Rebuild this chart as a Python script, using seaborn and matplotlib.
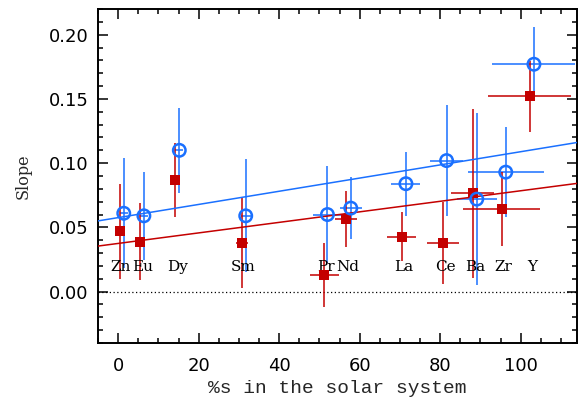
import numpy as np
import pandas as pd
import matplotlib
matplotlib.use("Agg")
import matplotlib.pyplot as plt
import seaborn as sns
from matplotlib.ticker import MultipleLocator

# ---------------- data ----------------
elements = ['Zn', 'Eu', 'Dy', 'Sm', 'Pr', 'Nd', 'La', 'Ce', 'Ba', 'Zr', 'Y']
label_x = [0.6, 6.0, 14.8, 31.1, 51.6, 57.1, 70.9, 81.2, 88.6, 95.8, 102.8]
label_y = 0.019

blue_x = [1.4, 6.4, 15.2, 31.7, 52.0, 57.8, 71.5, 81.6, 89.1, 96.3, 103.3]
blue_y = [0.061, 0.059, 0.110, 0.059, 0.060, 0.065, 0.084, 0.102, 0.072, 0.093, 0.177]
blue_yerr = [0.043, 0.034, 0.033, 0.044, 0.038, 0.024, 0.025, 0.043, 0.067, 0.035, 0.029]
blue_xerr = [1.0, 1.0, 1.0, 1.2, 3.5, 2.8, 3.6, 4.0, 5.0, 9.5, 10.3]

red_x = [0.4, 5.35, 14.2, 30.7, 51.2, 56.6, 70.5, 80.7, 88.1, 95.3, 102.3]
red_y = [0.0468, 0.039, 0.0868, 0.0382, 0.0128, 0.0564, 0.0429, 0.0377, 0.0764, 0.0642, 0.152]
red_yerr = [0.037, 0.030, 0.029, 0.035, 0.025, 0.022, 0.019, 0.032, 0.066, 0.029, 0.0275]
red_xerr = [0.5, 0.5, 0.5, 1.5, 3.65, 2.8, 3.6, 4.0, 5.3, 9.5, 10.3]

# linear fits (intercept, slope)
blue_fit = (0.0576, 0.000513)
red_fit = (0.0375, 0.00041)

xlim = (-5.0, 114.0)
ylim = (-0.040, 0.220)

BLUE = '#1a70ff'
RED = '#c40000'

# ---------------- style ----------------
sns.set_theme(style="ticks")
plt.rcParams.update({
    'font.family': ['DejaVu Sans'],
    'xtick.direction': 'in', 'ytick.direction': 'in',
    'xtick.top': True, 'ytick.right': True,
    'xtick.major.size': 7.2, 'ytick.major.size': 7.2,
    'xtick.minor.size': 3.6, 'ytick.minor.size': 3.6,
    'xtick.major.width': 1.1, 'ytick.major.width': 1.1,
    'xtick.minor.width': 1.1, 'ytick.minor.width': 1.1,
    'xtick.color': 'black', 'ytick.color': 'black',
    'axes.edgecolor': 'black', 'axes.linewidth': 1.4,
})

fig = plt.figure(figsize=(5.79, 4.0), dpi=100)
ax = fig.add_axes([98/579, 57/400, 479/579, 334/400])

blue_df = pd.DataFrame({'x': blue_x, 'y': blue_y})
red_df = pd.DataFrame({'x': red_x, 'y': red_y})

# error bars
ax.errorbar(blue_x, blue_y, yerr=blue_yerr, xerr=blue_xerr, fmt='none',
            ecolor=BLUE, elinewidth=1.1, capsize=0, zorder=2)
ax.errorbar(red_x, red_y, yerr=red_yerr, xerr=red_xerr, fmt='none',
            ecolor=RED, elinewidth=1.1, capsize=0, zorder=2.5)

# fit lines
xx = np.array(xlim)
sns.lineplot(x=xx, y=blue_fit[0] + blue_fit[1] * xx, ax=ax, color=BLUE, lw=1.1, zorder=3)
sns.lineplot(x=xx, y=red_fit[0] + red_fit[1] * xx, ax=ax, color=RED, lw=1.1, zorder=3)

# zero line
ax.axhline(0.0, color='black', lw=0.9, ls=(0, (1, 2)), zorder=1)

# markers
sns.scatterplot(data=red_df, x='x', y='y', ax=ax, marker='s', s=42,
                color=RED, edgecolor=RED, linewidth=0, zorder=4)
sns.scatterplot(data=blue_df, x='x', y='y', ax=ax, marker='o', s=80,
                facecolor='none', edgecolor=BLUE, linewidth=1.8, zorder=4)

# element labels
for el, lx in zip(elements, label_x):
    ax.text(lx, label_y, el, ha='center', va='center', fontsize=11,
            family='DejaVu Serif', color='black')

ax.set_xlim(*xlim)
ax.set_ylim(*ylim)
ax.xaxis.set_major_locator(MultipleLocator(20))
ax.xaxis.set_minor_locator(MultipleLocator(5))
ax.yaxis.set_major_locator(MultipleLocator(0.05))
ax.yaxis.set_minor_locator(MultipleLocator(0.01))
ax.yaxis.set_major_formatter(matplotlib.ticker.FormatStrFormatter('%.2f'))
ax.tick_params(axis='both', which='major', labelsize=13, pad=10)
ax.tick_params(axis='y', which='major', pad=7)

ax.set_xlabel('%s in the solar system', family='Liberation Mono', fontsize=14, labelpad=4)
ax.set_ylabel('Slope', family='DejaVu Serif', fontsize=11.5, labelpad=12)

for sp in ax.spines.values():
    sp.set_visible(True)

fig.savefig('out.png', dpi=100)
